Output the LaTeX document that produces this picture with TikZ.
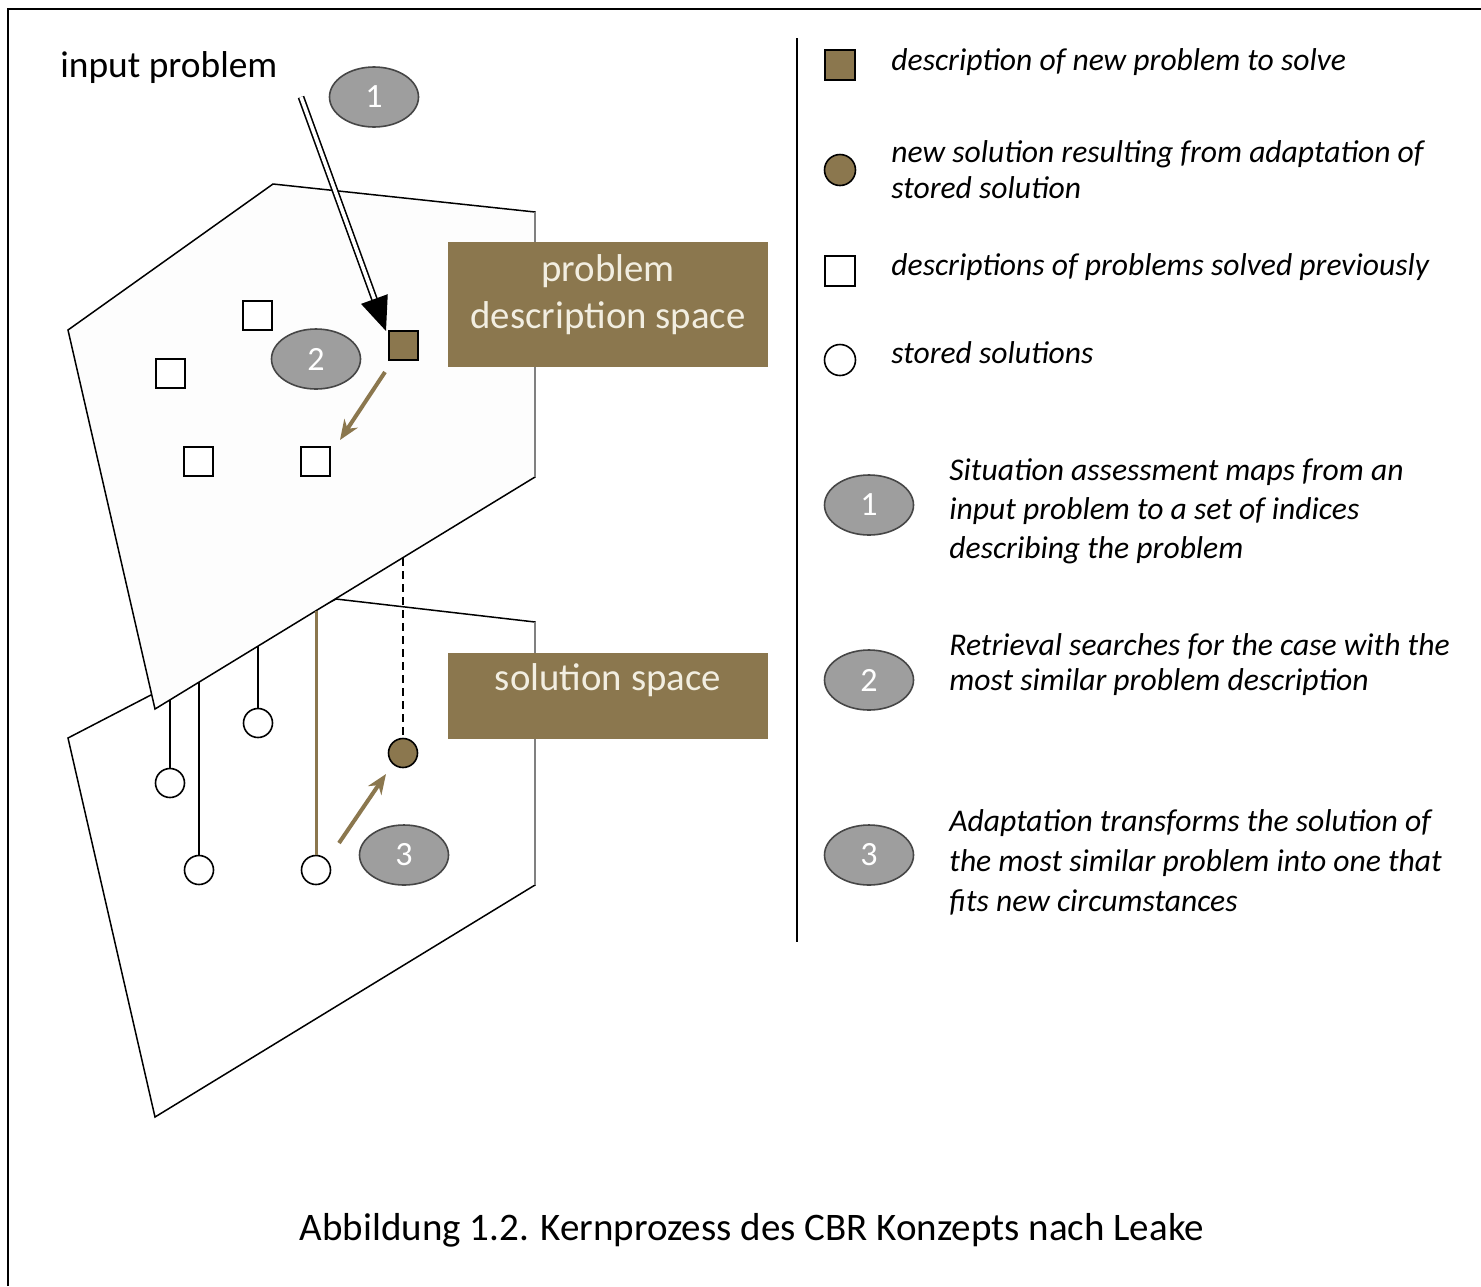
\documentclass[tikz,border=0pt]{standalone}
\usepackage{fontspec}
\setmainfont{Carlito}
\usetikzlibrary{arrows.meta,shapes.geometric}
\definecolor{brn}{RGB}{139,119,78}
\definecolor{ellg}{RGB}{158,158,158}
\definecolor{elld}{RGB}{70,70,70}
\definecolor{boxtxt}{RGB}{242,238,225}
\definecolor{planefill}{RGB}{253,253,253}
\begin{document}
\begin{tikzpicture}[x=0.5pt,y=-0.5pt,
  numell/.style={ellipse, draw=elld, line width=0.8pt, fill=ellg, minimum width=44.5pt, minimum height=30pt, inner sep=0pt, text=white, font=\fontsize{17}{17}\selectfont},
  oldsq/.style={rectangle, draw=black, line width=1pt, fill=white, minimum size=14.5pt, inner sep=0pt},
  newsq/.style={oldsq, fill=brn},
  oldcirc/.style={circle, draw=black, line width=0.8pt, fill=white, minimum size=14.5pt, inner sep=0pt},
  newcirc/.style={oldcirc, fill=brn},
  spacebox/.style={rectangle, fill=brn, minimum width=160pt, inner sep=0pt},
  boxlabel/.style={text=boxtxt, align=center, font=\fontsize{19.4}{23.5}\selectfont, inner sep=0pt},
  legtxt/.style={anchor=west, align=left, inner sep=0pt, font=\fontsize{15.8}{19.5}\selectfont\itshape},
  plane/.style={draw=black, line width=0.75pt, line join=miter},
  stem/.style={draw=black, line width=0.75pt},
  brnarrow/.style={draw=brn, line width=2pt, -{Stealth[length=10pt,width=8pt]}},
  dblarrow/.style={draw=black, double=white, double distance=1.8pt, line width=0.8pt, -{Triangle[length=17pt,width=14pt]}}
]
\useasboundingbox (0,0) rectangle (1481,1286);
\fill[white] (0,0) rectangle (1481,1286);
% frame
\draw[line width=1.2pt] (8,1286) -- (8,9) -- (1481,9);

% lower plane (solution space)
\draw[plane, fill=white] (68,738) -- (336,599) -- (535,622) -- (535,885) -- (155,1117) -- cycle;
\draw[draw=gray, line width=1pt] (535,622) -- (535,885);
% upper plane (problem description space)
\draw[plane, fill=planefill] (68,330) -- (273,184) -- (535,212) -- (535,477) -- (155,709) -- cycle;
\draw[draw=gray, line width=1pt] (535,212) -- (535,477);

% label boxes
\node[spacebox, minimum height=62.5pt] (pdbox) at (608,304.5) {};
\node[boxlabel] (pdlabel) at (608,295) {problem\\description space};
\node[spacebox, minimum height=43pt] (ssbox) at (608,696) {};
\node[boxlabel] (sslabel) at (608,680) {solution space};

% input problem
\node[anchor=west, inner sep=0pt, font=\fontsize{18.7}{22}\selectfont] (input) at (60,68) {input problem};
\node[numell] (e1) at (374,97) {1};
\node[numell] (e2) at (316,359) {2};
\node[numell] (e3) at (404,855) {3};

% problem descriptions
\node[oldsq] (p1) at (257,315) {};
\node[oldsq] (p2) at (170,373) {};
\node[oldsq] (p3) at (198,461) {};
\node[oldsq] (p4) at (315,461) {};
\node[newsq] (np) at (403,345) {};

% input arrow
\coordinate (ipst) at (301,97);
\coordinate (iptip) at (386,331);
\draw[dblarrow] (ipst) -- (iptip);

% retrieval arrow
\coordinate (r1) at (385,372);
\coordinate (r2) at (340,440);
\draw[brnarrow] (r1) -- (r2);

% stems and solutions
\coordinate (s1) at (170,700);
\coordinate (s2) at (199,682);
\coordinate (s3) at (258,646);
\coordinate (s4) at (316,611);
\coordinate (s5) at (403,558);
\node[oldcirc] (c1) at (170,783) {};
\node[oldcirc] (c2) at (199,870) {};
\node[oldcirc] (c3) at (258,723) {};
\node[oldcirc] (c4) at (316,870) {};
\node[newcirc] (ns) at (403,753) {};
\draw[stem] (s1) -- (c1);
\draw[stem] (s2) -- (c2);
\draw[stem] (s3) -- (c3);
\draw[draw=brn, line width=1.5pt] (s4) -- (c4);
\draw[draw=black, line width=0.7pt, dash pattern=on 4pt off 2.5pt] (s5) -- (ns);

% adaptation arrow
\coordinate (a1) at (339,843);
\coordinate (a2) at (386,774);
\draw[brnarrow] (a1) -- (a2);

% legend
\draw[line width=0.75pt] (797,38) -- (797,942);
\node[newsq, minimum size=15pt] (lg1) at (840,65) {};
\node[legtxt] (lt1) at (891,62) {description of new problem to solve};
\node[newcirc, minimum size=15.5pt] (lg2) at (840,170) {};
\node[legtxt, font=\fontsize{15.8}{18}\selectfont\itshape] (lt2) at (891,170) {new solution resulting from adaptation of\\stored solution};
\node[oldsq, minimum size=15pt] (lg3) at (840,271) {};
\node[legtxt] (lt3) at (891,267) {descriptions of problems solved previously};
\node[oldcirc, minimum size=15.5pt] (lg4) at (840,360) {};
\node[legtxt] (lt4) at (891,353) {stored solutions};

\node[numell] (l1) at (869,505) {1};
\node[legtxt] (lx1) at (949,511) {Situation assessment maps from an\\input problem to a set of indices\\describing the problem};
\node[numell] (l2) at (869,680) {2};
\node[legtxt, font=\fontsize{15.8}{17.5}\selectfont\itshape] (lx2) at (949,665) {Retrieval searches for the case with the\\most similar problem description};
\node[numell] (l3) at (869,855) {3};
\node[legtxt, font=\fontsize{15.8}{20}\selectfont\itshape] (lx3) at (949,862) {Adaptation transforms the solution of\\the most similar problem into one that\\fits new circumstances};

% caption
\node[inner sep=0pt, font=\fontsize{19.5}{23}\selectfont] (cap) at (752,1230) {Abbildung 1.2. Kernprozess des CBR Konzepts nach Leake};
\end{tikzpicture}
\end{document}
